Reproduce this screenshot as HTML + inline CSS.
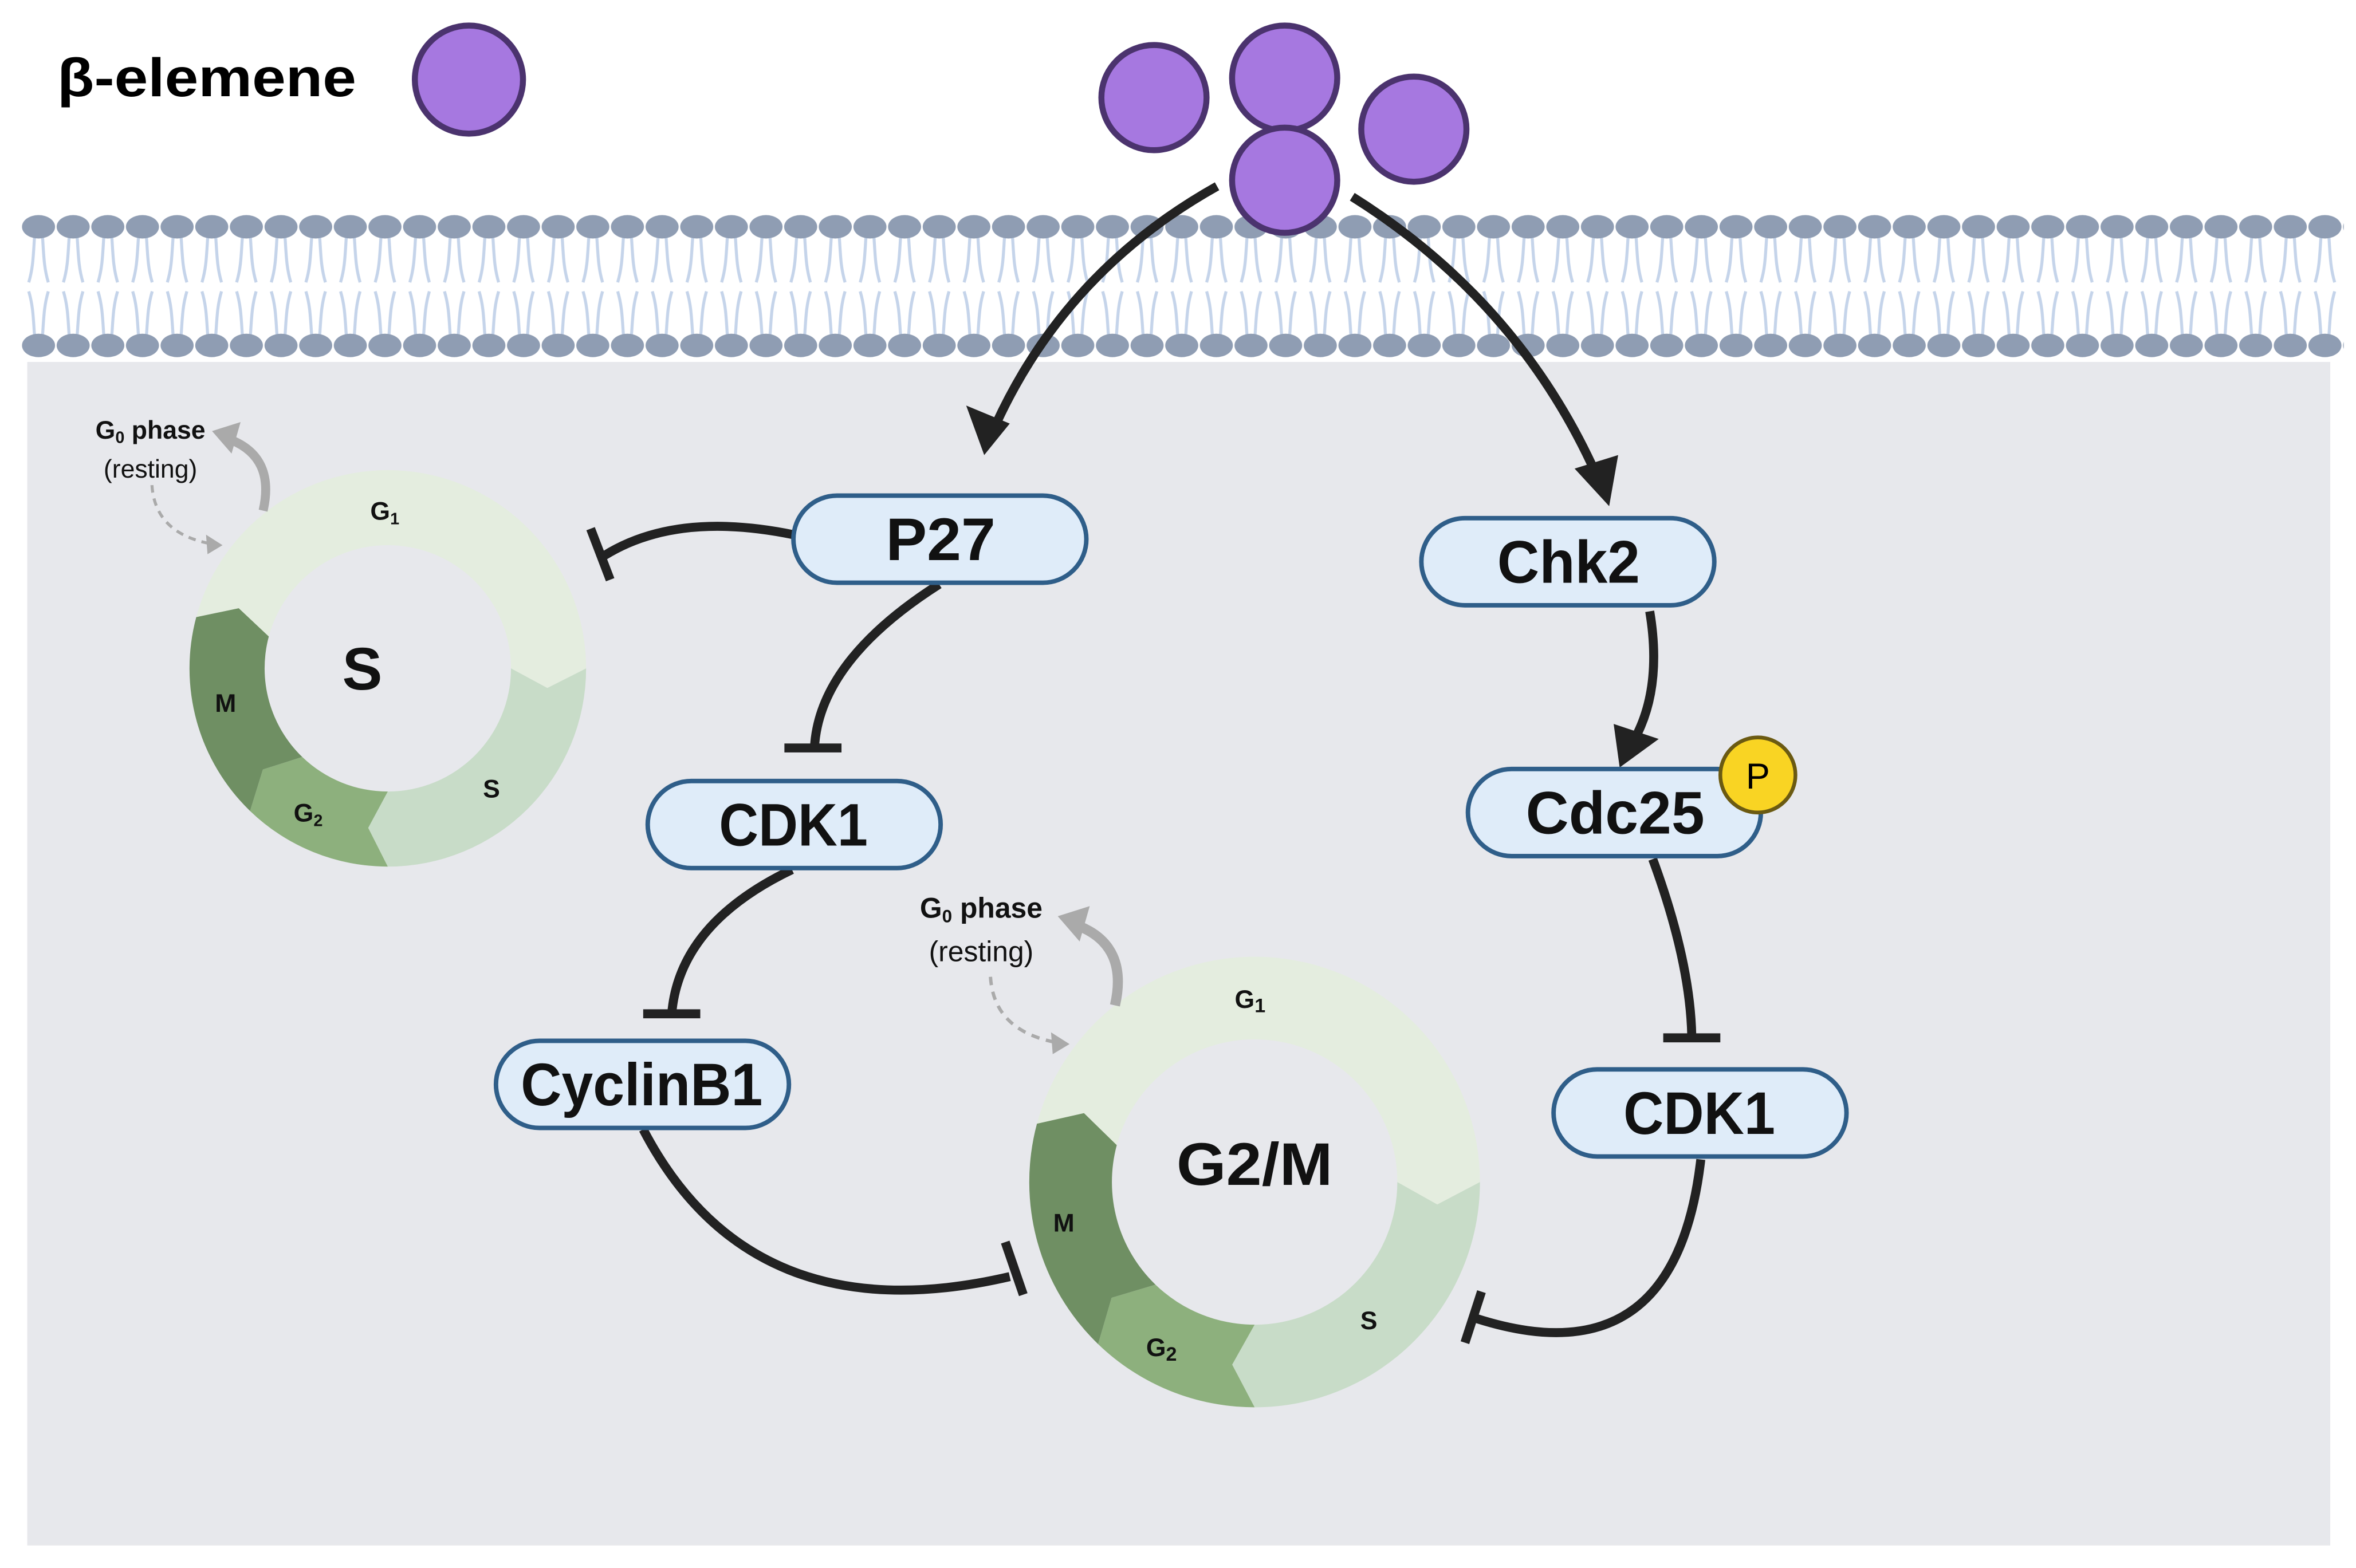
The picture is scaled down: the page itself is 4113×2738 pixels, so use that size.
<!DOCTYPE html>
<html><head><meta charset="utf-8"><style>html,body{margin:0;padding:0;background:#fff}svg{display:block}</style></head>
<body>
<svg xmlns="http://www.w3.org/2000/svg" width="4113" height="2738" viewBox="0 0 1568 1044" font-family="'Liberation Sans', sans-serif">
<defs>
<pattern id="mem" patternUnits="userSpaceOnUse" x="14" y="140" width="23.06" height="100">
<g fill="none" stroke="#c5d4ea" stroke-width="2">
<path d="M9,15 C8,30 8,38 5,48"/><path d="M14,15 C15,30 15,38 18,48"/>
<path d="M5,54 C8,64 8,72 9,86"/><path d="M18,54 C15,64 15,72 14,86"/>
</g>
<ellipse cx="11.5" cy="11" rx="11" ry="7.8" fill="#8f9db3"/>
<ellipse cx="11.5" cy="90" rx="11" ry="7.8" fill="#8f9db3"/>
</pattern>
</defs>
<rect width="1568" height="1044" fill="#fff"/>
<rect x="18" y="241" width="1533" height="788" fill="#e7e8ec"/>
<rect x="14" y="140" width="1546" height="100" fill="url(#mem)"/>

<text x="38" y="64" font-size="36" font-weight="bold" textLength="199" lengthAdjust="spacingAndGlyphs">β-elemene</text>
<g fill="#a678e0" stroke="#4b336e" stroke-width="4">
<circle cx="312" cy="53" r="36"/>
<circle cx="768" cy="65" r="35"/>
<circle cx="855" cy="52" r="35"/>
<circle cx="941" cy="86" r="35"/>
<circle cx="855" cy="120" r="35"/>
</g>

<g id="rings"></g>

<g fill="none" stroke="#222" stroke-width="6">
<path d="M810,124 Q710,180 663,282"/>
<path d="M900,131 Q1010,200 1062,315"/>
<path d="M1098,407 Q1106,455 1090,488"/>
<path d="M528,356 Q450,340 402,370"/>
<path d="M625,389 Q545,440 542,498"/>
<path d="M527,579 Q452,615 447,675"/>
<path d="M1100,572 Q1125,640 1126,690"/>
<path d="M428,752 Q500,890 672,850"/>
<path d="M1132,772 Q1115,920 983,878"/>
</g>
<g stroke="#222" stroke-width="6">
<line x1="393" y1="352" x2="406" y2="386"/>
<line x1="522" y1="498" x2="560" y2="498"/>
<line x1="428" y1="675" x2="466" y2="675"/>
<line x1="1107" y1="691" x2="1145" y2="691"/>
<line x1="669" y1="827" x2="681" y2="862"/>
<line x1="986" y1="860" x2="975" y2="894"/>
</g>
<g fill="#222">
<polygon points="655,303 643,270 672,282"/>
<polygon points="1071,337 1048,312 1077,303"/>
<polygon points="1078,511 1074,482 1104,492"/>
</g>

<g stroke="#2f5e89" stroke-width="3" fill="#dfecf9">
<rect x="528" y="330" width="195" height="58" rx="29"/>
<rect x="946" y="345" width="195" height="58" rx="29"/>
<rect x="431" y="520" width="195" height="58" rx="29"/>
<rect x="977" y="512" width="195" height="58" rx="29"/>
<rect x="330" y="693" width="195" height="58" rx="29"/>
<rect x="1034" y="712" width="195" height="58" rx="29"/>
</g>
<circle cx="1170" cy="516" r="25" fill="#f9d423" stroke="#6b5a12" stroke-width="2.5"/>
<text x="1170" y="525" font-size="24" text-anchor="middle">P</text>
<g font-size="40" font-weight="bold" text-anchor="middle" fill="#111">
<text x="626" y="373" textLength="73" lengthAdjust="spacingAndGlyphs">P27</text>
<text x="1044" y="388" textLength="95" lengthAdjust="spacingAndGlyphs">Chk2</text>
<text x="528" y="563" textLength="99" lengthAdjust="spacingAndGlyphs">CDK1</text>
<text x="1075" y="555" textLength="119" lengthAdjust="spacingAndGlyphs">Cdc25</text>
<text x="427" y="736" textLength="161" lengthAdjust="spacingAndGlyphs">CyclinB1</text>
<text x="1131" y="755" textLength="101" lengthAdjust="spacingAndGlyphs">CDK1</text>
</g>

<g id="lbl1" font-weight="bold" fill="#111">
<text x="241" y="459" font-size="40" text-anchor="middle">S</text>
<text x="835" y="789" font-size="40" text-anchor="middle" textLength="104" lengthAdjust="spacingAndGlyphs">G2/M</text>
<g font-size="17" text-anchor="middle">
<text x="256" y="346">G<tspan font-size="11" dy="3">1</tspan></text>
<text x="150" y="474">M</text>
<text x="205" y="547">G<tspan font-size="11" dy="3">2</tspan></text>
<text x="327" y="531">S</text>
<text x="832" y="671">G<tspan font-size="13" dy="3">1</tspan></text>
<text x="708" y="820">M</text>
<text x="773" y="903">G<tspan font-size="13" dy="3">2</tspan></text>
<text x="911" y="885">S</text>
</g>
<text x="100" y="292" font-size="17" text-anchor="middle">G<tspan font-size="11" dy="3">0</tspan><tspan dy="-3"> phase</tspan></text>
<text x="100" y="318" font-size="17" font-weight="normal" text-anchor="middle">(resting)</text>
<text x="653" y="611" font-size="19" text-anchor="middle">G<tspan font-size="12" dy="3">0</tspan><tspan dy="-3"> phase</tspan></text>
<text x="653" y="640" font-size="19" font-weight="normal" text-anchor="middle">(resting)</text>
</g>

<script>
(function(){
var g=document.getElementById('rings'),NS='http://www.w3.org/2000/svg';
function P(cx,cy,r,a){a=a*Math.PI/180;return (cx+r*Math.cos(a)).toFixed(2)+','+(cy+r*Math.sin(a)).toFixed(2);}
function seg(cx,cy,ro,ri,a,b,col){
 var rm=(ro+ri)/2,d=7,large=(b-a)>180?1:0;
 var s='M'+P(cx,cy,ro,a)+' A'+ro+','+ro+' 0 '+large+' 1 '+P(cx,cy,ro,b)+' L'+P(cx,cy,rm,b+d)+' L'+P(cx,cy,ri,b)+' A'+ri+','+ri+' 0 '+large+' 0 '+P(cx,cy,ri,a)+' L'+P(cx,cy,rm,a+d)+' Z';
 var p=document.createElementNS(NS,'path');p.setAttribute('d',s);p.setAttribute('fill',col);g.appendChild(p);}
function ring(cx,cy,ro,ri,k){
 seg(cx,cy,ro,ri,0,90,'#c8dcc8');
 seg(cx,cy,ro,ri,90,134,'#8db07d');
 seg(cx,cy,ro,ri,134,195,'#6f8f63');
 seg(cx,cy,ro,ri,195,360,'#e4eddf');
 // G0 arrows
 var a=document.createElementNS(NS,'path');
 a.setAttribute('d','M'+(cx-83*k)+','+(cy-105*k)+' Q'+(cx-75*k)+','+(cy-140*k)+' '+(cx-104*k)+','+(cy-152*k));
 a.setAttribute('fill','none');a.setAttribute('stroke','#aaa');a.setAttribute('stroke-width',6*k);g.appendChild(a);
 var t=document.createElementNS(NS,'polygon');
 t.setAttribute('points',(cx-117*k)+','+(cy-158*k)+' '+(cx-98*k)+','+(cy-164*k)+' '+(cx-104*k)+','+(cy-143*k));
 t.setAttribute('fill','#aaa');g.appendChild(t);
 var b=document.createElementNS(NS,'path');
 b.setAttribute('d','M'+(cx-157*k)+','+(cy-122*k)+' Q'+(cx-155*k)+','+(cy-90*k)+' '+(cx-118*k)+','+(cy-83*k));
 b.setAttribute('fill','none');b.setAttribute('stroke','#aaa');b.setAttribute('stroke-width',2*k);b.setAttribute('stroke-dasharray',(5*k)+','+(4*k));g.appendChild(b);
 var t2=document.createElementNS(NS,'polygon');
 t2.setAttribute('points',(cx-110*k)+','+(cy-82*k)+' '+(cx-121*k)+','+(cy-89*k)+' '+(cx-120*k)+','+(cy-76*k));
 t2.setAttribute('fill','#aaa');g.appendChild(t2);
}
ring(258,445,132,82,1);
ring(835,787,150,95,1.12);
})();
</script>
</svg>
</body></html>
